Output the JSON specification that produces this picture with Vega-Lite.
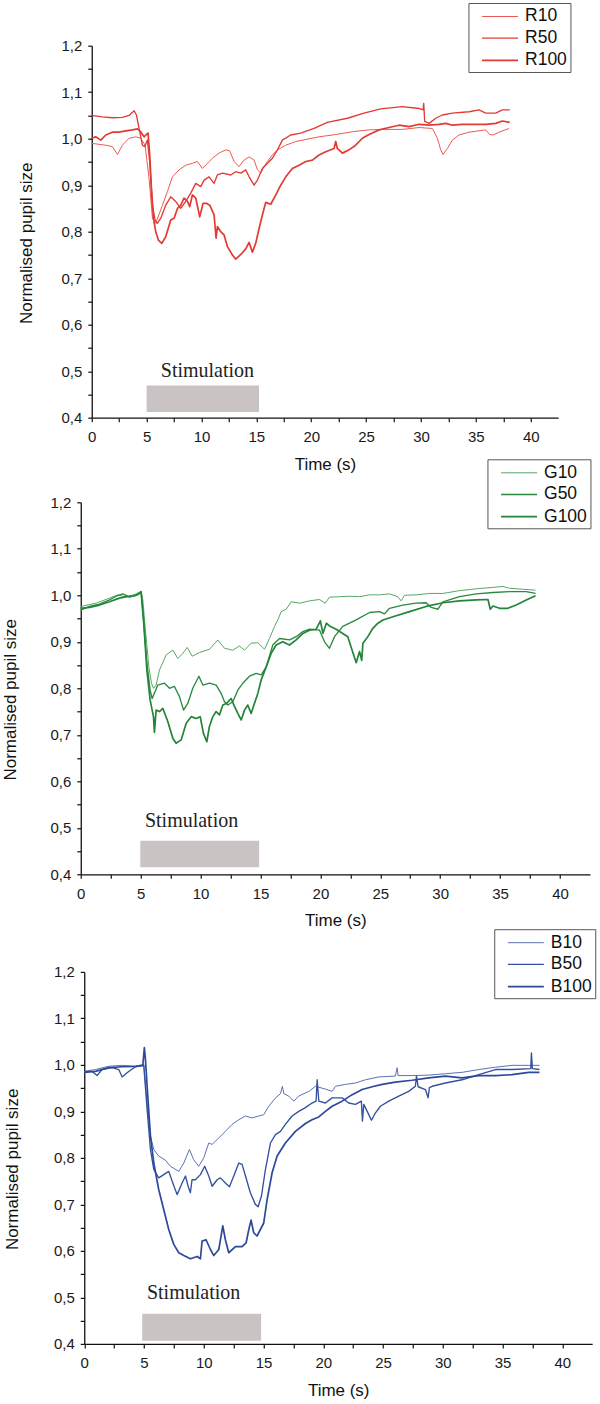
{
  "$schema": "https://vega.github.io/schema/vega-lite/v6.json",
  "background": "white",
  "padding": {"left": 0.75, "top": 1.7, "right": 0, "bottom": 0},
  "columns": 1,
  "bounds": "full",
  "spacing": -14.4,
  "resolve": {"scale": {"x": "independent", "y": "independent", "color": "independent", "strokeWidth": "independent"}},
  "config": {
    "view": {"stroke": null},
    "font": "Liberation Sans",
    "axis": {"grid": false, "domainColor": "#111111", "domainWidth": 1.3, "tickColor": "#111111", "tickWidth": 1.2, "tickSize": 4, "labelFont": "Liberation Sans", "labelFontSize": 15, "labelColor": "#1a1a1a", "titleFont": "Liberation Sans", "titleFontSize": 17, "titleFontWeight": "normal", "titleColor": "#111111", "labelFlush": false, "labelOverlap": false, "labelBound": false},
    "axisX": {"labelPadding": 8, "titlePadding": 11.4},
    "axisY": {"labelPadding": 6, "titleY": 197},
    "legend": {"orient": "none", "title": null, "strokeColor": "#555555", "fillColor": "white", "padding": 3, "symbolType": "M-2,0H1.6", "symbolSize": 400, "symbolOffset": 19.6, "labelOffset": 12, "labelFont": "Liberation Sans", "labelFontSize": 17.5, "labelColor": "#111111", "rowPadding": 2.2}
  },
  "datasets": {
    "stimR": [{"x1": 5.0, "x2": 15.24, "y1": 0.412, "y2": 0.469, "tx": 10.54, "ty": 0.487, "label": "Stimulation"}],
    "stimG": [{"x1": 4.97, "x2": 14.89, "y1": 0.415, "y2": 0.472, "tx": 9.25, "ty": 0.502, "label": "Stimulation"}],
    "stimB": [{"x1": 4.85, "x2": 14.8, "y1": 0.407, "y2": 0.465, "tx": 9.15, "ty": 0.497, "label": "Stimulation"}],
    "R": [
      {"s":"R10","t":0,"v":0.990},{"s":"R10","t":1.28,"v":0.986},{"s":"R10","t":1.88,"v":0.983},{"s":"R10","t":2.34,"v":0.966},{"s":"R10","t":2.79,"v":0.986},{"s":"R10","t":3.40,"v":1.001},{"s":"R10","t":4.01,"v":1.004},{"s":"R10","t":4.46,"v":1.001},{"s":"R10","t":4.86,"v":0.986},{"s":"R10","t":5.22,"v":0.915},{"s":"R10","t":5.53,"v":0.829},{"s":"R10","t":5.83,"v":0.818},{"s":"R10","t":6.44,"v":0.857},{"s":"R10","t":6.89,"v":0.886},{"s":"R10","t":7.35,"v":0.918},{"s":"R10","t":7.96,"v":0.933},{"s":"R10","t":8.56,"v":0.943},{"s":"R10","t":9.17,"v":0.947},{"s":"R10","t":9.63,"v":0.951},{"s":"R10","t":10.08,"v":0.936},{"s":"R10","t":10.54,"v":0.947},{"s":"R10","t":10.99,"v":0.958},{"s":"R10","t":11.60,"v":0.969},{"s":"R10","t":12.21,"v":0.976},{"s":"R10","t":12.57,"v":0.974},{"s":"R10","t":12.97,"v":0.951},{"s":"R10","t":13.42,"v":0.940},{"s":"R10","t":13.88,"v":0.954},{"s":"R10","t":14.34,"v":0.961},{"s":"R10","t":14.79,"v":0.954},{"s":"R10","t":15.10,"v":0.933},{"s":"R10","t":15.40,"v":0.926},{"s":"R10","t":15.70,"v":0.940},{"s":"R10","t":16.01,"v":0.951},{"s":"R10","t":16.46,"v":0.965},{"s":"R10","t":16.92,"v":0.976},{"s":"R10","t":17.68,"v":0.986},{"s":"R10","t":18.59,"v":0.994},{"s":"R10","t":20.71,"v":1.004},{"s":"R10","t":22.23,"v":1.009},{"s":"R10","t":23.75,"v":1.015},{"s":"R10","t":25.27,"v":1.019},{"s":"R10","t":26.79,"v":1.020},{"s":"R10","t":28.31,"v":1.020},{"s":"R10","t":29.83,"v":1.024},{"s":"R10","t":31.04,"v":1.022},{"s":"R10","t":31.50,"v":1.001},{"s":"R10","t":31.80,"v":0.976},{"s":"R10","t":32.01,"v":0.966},{"s":"R10","t":32.41,"v":0.979},{"s":"R10","t":32.86,"v":0.997},{"s":"R10","t":33.47,"v":1.008},{"s":"R10","t":34.38,"v":1.014},{"s":"R10","t":35.29,"v":1.017},{"s":"R10","t":35.90,"v":1.019},{"s":"R10","t":36.26,"v":1.009},{"s":"R10","t":36.57,"v":1.008},{"s":"R10","t":37.11,"v":1.014},{"s":"R10","t":38.03,"v":1.022},
      {"s":"R50","t":0,"v":1.050},{"s":"R50","t":0.97,"v":1.047},{"s":"R50","t":1.88,"v":1.045},{"s":"R50","t":2.79,"v":1.046},{"s":"R50","t":3.40,"v":1.050},{"s":"R50","t":3.86,"v":1.060},{"s":"R50","t":4.07,"v":1.051},{"s":"R50","t":4.31,"v":1.022},{"s":"R50","t":4.62,"v":0.986},{"s":"R50","t":4.83,"v":0.983},{"s":"R50","t":5.07,"v":0.997},{"s":"R50","t":5.28,"v":0.951},{"s":"R50","t":5.53,"v":0.857},{"s":"R50","t":5.77,"v":0.825},{"s":"R50","t":5.98,"v":0.818},{"s":"R50","t":6.29,"v":0.829},{"s":"R50","t":6.74,"v":0.857},{"s":"R50","t":7.20,"v":0.875},{"s":"R50","t":7.65,"v":0.865},{"s":"R50","t":8.11,"v":0.850},{"s":"R50","t":8.56,"v":0.865},{"s":"R50","t":9.02,"v":0.883},{"s":"R50","t":9.48,"v":0.904},{"s":"R50","t":9.93,"v":0.897},{"s":"R50","t":10.24,"v":0.911},{"s":"R50","t":10.69,"v":0.918},{"s":"R50","t":11.15,"v":0.904},{"s":"R50","t":11.45,"v":0.922},{"s":"R50","t":11.91,"v":0.926},{"s":"R50","t":12.67,"v":0.922},{"s":"R50","t":13.12,"v":0.929},{"s":"R50","t":13.58,"v":0.926},{"s":"R50","t":14.03,"v":0.933},{"s":"R50","t":14.34,"v":0.918},{"s":"R50","t":14.79,"v":0.900},{"s":"R50","t":15.10,"v":0.911},{"s":"R50","t":15.55,"v":0.936},{"s":"R50","t":16.01,"v":0.947},{"s":"R50","t":16.46,"v":0.958},{"s":"R50","t":16.92,"v":0.976},{"s":"R50","t":17.37,"v":0.997},{"s":"R50","t":18.13,"v":1.008},{"s":"R50","t":19.04,"v":1.012},{"s":"R50","t":20.26,"v":1.022},{"s":"R50","t":21.47,"v":1.035},{"s":"R50","t":23.30,"v":1.044},{"s":"R50","t":24.81,"v":1.055},{"s":"R50","t":26.33,"v":1.064},{"s":"R50","t":28.31,"v":1.069},{"s":"R50","t":29.83,"v":1.065},{"s":"R50","t":30.19,"v":1.062},{"s":"R50","t":30.25,"v":1.076},{"s":"R50","t":30.34,"v":1.037},{"s":"R50","t":30.74,"v":1.033},{"s":"R50","t":31.34,"v":1.044},{"s":"R50","t":31.95,"v":1.051},{"s":"R50","t":32.86,"v":1.055},{"s":"R50","t":34.38,"v":1.058},{"s":"R50","t":35.29,"v":1.062},{"s":"R50","t":35.90,"v":1.055},{"s":"R50","t":36.81,"v":1.055},{"s":"R50","t":37.42,"v":1.062},{"s":"R50","t":38.09,"v":1.062},
      {"s":"R100","t":0,"v":1.001},{"s":"R100","t":0.36,"v":1.004},{"s":"R100","t":0.82,"v":0.997},{"s":"R100","t":1.28,"v":1.008},{"s":"R100","t":1.88,"v":1.014},{"s":"R100","t":2.49,"v":1.014},{"s":"R100","t":3.10,"v":1.017},{"s":"R100","t":3.71,"v":1.019},{"s":"R100","t":4.16,"v":1.021},{"s":"R100","t":4.46,"v":1.015},{"s":"R100","t":4.77,"v":1.004},{"s":"R100","t":4.98,"v":1.009},{"s":"R100","t":5.13,"v":1.012},{"s":"R100","t":5.28,"v":0.965},{"s":"R100","t":5.44,"v":0.893},{"s":"R100","t":5.62,"v":0.829},{"s":"R100","t":5.83,"v":0.800},{"s":"R100","t":6.07,"v":0.782},{"s":"R100","t":6.38,"v":0.775},{"s":"R100","t":6.74,"v":0.789},{"s":"R100","t":7.20,"v":0.825},{"s":"R100","t":7.50,"v":0.829},{"s":"R100","t":7.81,"v":0.850},{"s":"R100","t":8.11,"v":0.857},{"s":"R100","t":8.41,"v":0.872},{"s":"R100","t":8.72,"v":0.865},{"s":"R100","t":8.93,"v":0.854},{"s":"R100","t":9.17,"v":0.879},{"s":"R100","t":9.48,"v":0.872},{"s":"R100","t":9.84,"v":0.832},{"s":"R100","t":10.14,"v":0.861},{"s":"R100","t":10.45,"v":0.861},{"s":"R100","t":10.75,"v":0.857},{"s":"R100","t":11.15,"v":0.836},{"s":"R100","t":11.33,"v":0.786},{"s":"R100","t":11.45,"v":0.811},{"s":"R100","t":11.75,"v":0.800},{"s":"R100","t":12.06,"v":0.793},{"s":"R100","t":12.36,"v":0.768},{"s":"R100","t":12.82,"v":0.750},{"s":"R100","t":13.12,"v":0.741},{"s":"R100","t":13.58,"v":0.751},{"s":"R100","t":14.03,"v":0.763},{"s":"R100","t":14.34,"v":0.777},{"s":"R100","t":14.64,"v":0.756},{"s":"R100","t":14.94,"v":0.775},{"s":"R100","t":15.25,"v":0.807},{"s":"R100","t":15.55,"v":0.836},{"s":"R100","t":15.85,"v":0.863},{"s":"R100","t":16.31,"v":0.859},{"s":"R100","t":16.77,"v":0.879},{"s":"R100","t":17.22,"v":0.900},{"s":"R100","t":17.68,"v":0.918},{"s":"R100","t":18.28,"v":0.936},{"s":"R100","t":18.89,"v":0.943},{"s":"R100","t":19.50,"v":0.951},{"s":"R100","t":20.11,"v":0.954},{"s":"R100","t":20.71,"v":0.965},{"s":"R100","t":21.32,"v":0.972},{"s":"R100","t":22.08,"v":0.979},{"s":"R100","t":22.23,"v":0.994},{"s":"R100","t":22.38,"v":0.979},{"s":"R100","t":22.84,"v":0.969},{"s":"R100","t":23.45,"v":0.976},{"s":"R100","t":24.05,"v":0.986},{"s":"R100","t":24.66,"v":1.001},{"s":"R100","t":25.27,"v":1.009},{"s":"R100","t":26.18,"v":1.019},{"s":"R100","t":27.09,"v":1.024},{"s":"R100","t":28.00,"v":1.029},{"s":"R100","t":28.91,"v":1.026},{"s":"R100","t":29.83,"v":1.031},{"s":"R100","t":30.74,"v":1.029},{"s":"R100","t":31.65,"v":1.031},{"s":"R100","t":32.26,"v":1.033},{"s":"R100","t":32.86,"v":1.029},{"s":"R100","t":33.77,"v":1.031},{"s":"R100","t":34.68,"v":1.031},{"s":"R100","t":35.90,"v":1.031},{"s":"R100","t":36.81,"v":1.033},{"s":"R100","t":37.42,"v":1.038},{"s":"R100","t":38.09,"v":1.035}
    ],
    "G": [
      {"s":"G10","t":0,"v":0.976},{"s":"G10","t":1.29,"v":0.983},{"s":"G10","t":2.40,"v":0.994},{"s":"G10","t":3.09,"v":1.001},{"s":"G10","t":3.79,"v":0.996},{"s":"G10","t":4.62,"v":1.003},{"s":"G10","t":5.04,"v":1.009},{"s":"G10","t":5.18,"v":0.990},{"s":"G10","t":5.40,"v":0.925},{"s":"G10","t":5.68,"v":0.847},{"s":"G10","t":5.90,"v":0.811},{"s":"G10","t":6.07,"v":0.800},{"s":"G10","t":6.29,"v":0.807},{"s":"G10","t":6.57,"v":0.839},{"s":"G10","t":7.13,"v":0.872},{"s":"G10","t":7.69,"v":0.882},{"s":"G10","t":8.10,"v":0.864},{"s":"G10","t":8.52,"v":0.875},{"s":"G10","t":8.88,"v":0.888},{"s":"G10","t":9.30,"v":0.869},{"s":"G10","t":9.91,"v":0.877},{"s":"G10","t":10.75,"v":0.884},{"s":"G10","t":11.44,"v":0.904},{"s":"G10","t":12.00,"v":0.886},{"s":"G10","t":12.69,"v":0.882},{"s":"G10","t":13.25,"v":0.891},{"s":"G10","t":13.67,"v":0.882},{"s":"G10","t":14.22,"v":0.897},{"s":"G10","t":14.78,"v":0.898},{"s":"G10","t":15.34,"v":0.884},{"s":"G10","t":15.75,"v":0.907},{"s":"G10","t":16.17,"v":0.933},{"s":"G10","t":16.45,"v":0.947},{"s":"G10","t":16.73,"v":0.965},{"s":"G10","t":17.15,"v":0.970},{"s":"G10","t":17.56,"v":0.986},{"s":"G10","t":18.26,"v":0.983},{"s":"G10","t":19.09,"v":0.988},{"s":"G10","t":19.93,"v":0.991},{"s":"G10","t":20.40,"v":0.983},{"s":"G10","t":20.76,"v":0.996},{"s":"G10","t":21.60,"v":0.997},{"s":"G10","t":22.43,"v":0.998},{"s":"G10","t":23.27,"v":0.997},{"s":"G10","t":24.10,"v":1.001},{"s":"G10","t":24.94,"v":1.001},{"s":"G10","t":25.77,"v":1.003},{"s":"G10","t":26.47,"v":0.997},{"s":"G10","t":26.74,"v":0.988},{"s":"G10","t":27.02,"v":1.000},{"s":"G10","t":28.00,"v":1.001},{"s":"G10","t":29.11,"v":1.004},{"s":"G10","t":30.23,"v":1.004},{"s":"G10","t":31.61,"v":1.010},{"s":"G10","t":33.01,"v":1.014},{"s":"G10","t":34.40,"v":1.017},{"s":"G10","t":35.23,"v":1.019},{"s":"G10","t":35.79,"v":1.015},{"s":"G10","t":36.90,"v":1.013},{"s":"G10","t":37.96,"v":1.011},
      {"s":"G50","t":0,"v":0.968},{"s":"G50","t":0.73,"v":0.976},{"s":"G50","t":1.56,"v":0.981},{"s":"G50","t":2.40,"v":0.990},{"s":"G50","t":2.96,"v":0.998},{"s":"G50","t":3.51,"v":1.003},{"s":"G50","t":4.07,"v":0.996},{"s":"G50","t":4.76,"v":1.001},{"s":"G50","t":5.04,"v":1.008},{"s":"G50","t":5.24,"v":0.947},{"s":"G50","t":5.52,"v":0.854},{"s":"G50","t":5.79,"v":0.796},{"s":"G50","t":5.96,"v":0.778},{"s":"G50","t":6.43,"v":0.807},{"s":"G50","t":6.99,"v":0.811},{"s":"G50","t":7.41,"v":0.800},{"s":"G50","t":7.82,"v":0.804},{"s":"G50","t":8.24,"v":0.782},{"s":"G50","t":8.58,"v":0.753},{"s":"G50","t":8.94,"v":0.768},{"s":"G50","t":9.35,"v":0.800},{"s":"G50","t":9.86,"v":0.826},{"s":"G50","t":10.19,"v":0.807},{"s":"G50","t":10.75,"v":0.811},{"s":"G50","t":11.30,"v":0.807},{"s":"G50","t":11.72,"v":0.789},{"s":"G50","t":12.00,"v":0.771},{"s":"G50","t":12.28,"v":0.764},{"s":"G50","t":12.69,"v":0.771},{"s":"G50","t":13.11,"v":0.796},{"s":"G50","t":13.53,"v":0.811},{"s":"G50","t":14.08,"v":0.826},{"s":"G50","t":14.64,"v":0.832},{"s":"G50","t":15.06,"v":0.829},{"s":"G50","t":15.48,"v":0.846},{"s":"G50","t":16.03,"v":0.893},{"s":"G50","t":16.59,"v":0.907},{"s":"G50","t":17.43,"v":0.904},{"s":"G50","t":17.98,"v":0.911},{"s":"G50","t":18.54,"v":0.922},{"s":"G50","t":19.09,"v":0.927},{"s":"G50","t":19.93,"v":0.925},{"s":"G50","t":20.35,"v":0.900},{"s":"G50","t":20.76,"v":0.886},{"s":"G50","t":21.18,"v":0.911},{"s":"G50","t":21.87,"v":0.933},{"s":"G50","t":22.99,"v":0.947},{"s":"G50","t":24.10,"v":0.963},{"s":"G50","t":24.94,"v":0.965},{"s":"G50","t":25.35,"v":0.960},{"s":"G50","t":25.77,"v":0.972},{"s":"G50","t":26.88,"v":0.979},{"s":"G50","t":27.99,"v":0.983},{"s":"G50","t":28.83,"v":0.984},{"s":"G50","t":29.25,"v":0.974},{"s":"G50","t":29.81,"v":0.970},{"s":"G50","t":30.23,"v":0.986},{"s":"G50","t":31.61,"v":0.997},{"s":"G50","t":33.01,"v":1.003},{"s":"G50","t":34.40,"v":1.006},{"s":"G50","t":35.79,"v":1.008},{"s":"G50","t":37.18,"v":1.008},{"s":"G50","t":37.96,"v":1.004},
      {"s":"G100","t":0,"v":0.972},{"s":"G100","t":0.73,"v":0.974},{"s":"G100","t":1.56,"v":0.979},{"s":"G100","t":2.40,"v":0.986},{"s":"G100","t":3.23,"v":0.994},{"s":"G100","t":3.79,"v":0.997},{"s":"G100","t":4.49,"v":0.999},{"s":"G100","t":5.04,"v":1.006},{"s":"G100","t":5.26,"v":0.940},{"s":"G100","t":5.52,"v":0.839},{"s":"G100","t":5.79,"v":0.775},{"s":"G100","t":6.07,"v":0.739},{"s":"G100","t":6.15,"v":0.705},{"s":"G100","t":6.29,"v":0.753},{"s":"G100","t":6.57,"v":0.750},{"s":"G100","t":6.85,"v":0.757},{"s":"G100","t":7.27,"v":0.728},{"s":"G100","t":7.69,"v":0.692},{"s":"G100","t":7.96,"v":0.682},{"s":"G100","t":8.38,"v":0.689},{"s":"G100","t":8.80,"v":0.725},{"s":"G100","t":9.22,"v":0.739},{"s":"G100","t":9.63,"v":0.735},{"s":"G100","t":9.97,"v":0.739},{"s":"G100","t":10.24,"v":0.703},{"s":"G100","t":10.52,"v":0.685},{"s":"G100","t":10.74,"v":0.718},{"s":"G100","t":11.02,"v":0.739},{"s":"G100","t":11.30,"v":0.750},{"s":"G100","t":11.58,"v":0.743},{"s":"G100","t":11.86,"v":0.764},{"s":"G100","t":12.19,"v":0.768},{"s":"G100","t":12.55,"v":0.778},{"s":"G100","t":12.83,"v":0.761},{"s":"G100","t":13.11,"v":0.746},{"s":"G100","t":13.39,"v":0.732},{"s":"G100","t":13.67,"v":0.753},{"s":"G100","t":13.94,"v":0.764},{"s":"G100","t":14.22,"v":0.746},{"s":"G100","t":14.50,"v":0.768},{"s":"G100","t":14.78,"v":0.789},{"s":"G100","t":15.06,"v":0.818},{"s":"G100","t":15.48,"v":0.846},{"s":"G100","t":15.89,"v":0.875},{"s":"G100","t":16.31,"v":0.893},{"s":"G100","t":16.86,"v":0.900},{"s":"G100","t":17.42,"v":0.893},{"s":"G100","t":17.98,"v":0.904},{"s":"G100","t":18.54,"v":0.918},{"s":"G100","t":19.09,"v":0.925},{"s":"G100","t":19.65,"v":0.927},{"s":"G100","t":20.00,"v":0.945},{"s":"G100","t":20.21,"v":0.918},{"s":"G100","t":20.50,"v":0.940},{"s":"G100","t":20.76,"v":0.934},{"s":"G100","t":21.32,"v":0.927},{"s":"G100","t":21.87,"v":0.918},{"s":"G100","t":22.29,"v":0.911},{"s":"G100","t":22.65,"v":0.882},{"s":"G100","t":22.99,"v":0.855},{"s":"G100","t":23.27,"v":0.879},{"s":"G100","t":23.45,"v":0.860},{"s":"G100","t":23.55,"v":0.897},{"s":"G100","t":23.96,"v":0.911},{"s":"G100","t":24.38,"v":0.929},{"s":"G100","t":24.80,"v":0.940},{"s":"G100","t":25.22,"v":0.947},{"s":"G100","t":26.06,"v":0.954},{"s":"G100","t":27.44,"v":0.965},{"s":"G100","t":28.83,"v":0.976},{"s":"G100","t":30.23,"v":0.984},{"s":"G100","t":31.61,"v":0.988},{"s":"G100","t":33.01,"v":0.990},{"s":"G100","t":33.99,"v":0.991},{"s":"G100","t":34.18,"v":0.970},{"s":"G100","t":34.40,"v":0.977},{"s":"G100","t":34.96,"v":0.972},{"s":"G100","t":35.65,"v":0.972},{"s":"G100","t":36.34,"v":0.979},{"s":"G100","t":37.18,"v":0.990},{"s":"G100","t":37.96,"v":0.999}
    ],
    "B": [
      {"s":"B10","t":0,"v":0.986},{"s":"B10","t":0.93,"v":0.990},{"s":"B10","t":2.05,"v":0.997},{"s":"B10","t":3.17,"v":0.999},{"s":"B10","t":4.28,"v":0.997},{"s":"B10","t":4.98,"v":1.001},{"s":"B10","t":5.26,"v":0.918},{"s":"B10","t":5.54,"v":0.847},{"s":"B10","t":5.82,"v":0.818},{"s":"B10","t":6.23,"v":0.804},{"s":"B10","t":6.79,"v":0.795},{"s":"B10","t":7.21,"v":0.782},{"s":"B10","t":7.91,"v":0.771},{"s":"B10","t":8.33,"v":0.789},{"s":"B10","t":8.80,"v":0.818},{"s":"B10","t":9.16,"v":0.796},{"s":"B10","t":9.58,"v":0.782},{"s":"B10","t":10.00,"v":0.800},{"s":"B10","t":10.42,"v":0.832},{"s":"B10","t":10.70,"v":0.829},{"s":"B10","t":11.26,"v":0.843},{"s":"B10","t":11.81,"v":0.857},{"s":"B10","t":12.37,"v":0.872},{"s":"B10","t":12.93,"v":0.882},{"s":"B10","t":13.49,"v":0.890},{"s":"B10","t":14.04,"v":0.886},{"s":"B10","t":14.60,"v":0.890},{"s":"B10","t":15.02,"v":0.893},{"s":"B10","t":15.44,"v":0.911},{"s":"B10","t":16.00,"v":0.929},{"s":"B10","t":16.42,"v":0.938},{"s":"B10","t":16.58,"v":0.954},{"s":"B10","t":16.70,"v":0.938},{"s":"B10","t":17.11,"v":0.933},{"s":"B10","t":17.53,"v":0.922},{"s":"B10","t":17.95,"v":0.933},{"s":"B10","t":18.79,"v":0.943},{"s":"B10","t":19.34,"v":0.954},{"s":"B10","t":20.18,"v":0.948},{"s":"B10","t":20.74,"v":0.943},{"s":"B10","t":21.02,"v":0.954},{"s":"B10","t":21.85,"v":0.958},{"s":"B10","t":22.69,"v":0.961},{"s":"B10","t":23.53,"v":0.968},{"s":"B10","t":24.64,"v":0.974},{"s":"B10","t":26.04,"v":0.976},{"s":"B10","t":26.18,"v":0.994},{"s":"B10","t":26.26,"v":0.977},{"s":"B10","t":27.43,"v":0.977},{"s":"B10","t":28.83,"v":0.978},{"s":"B10","t":30.22,"v":0.981},{"s":"B10","t":31.62,"v":0.984},{"s":"B10","t":33.01,"v":0.990},{"s":"B10","t":34.41,"v":0.995},{"s":"B10","t":35.80,"v":0.999},{"s":"B10","t":37.20,"v":0.999},{"s":"B10","t":38.09,"v":0.999},
      {"s":"B50","t":0,"v":0.986},{"s":"B50","t":0.66,"v":0.986},{"s":"B50","t":1.07,"v":0.977},{"s":"B50","t":1.49,"v":0.990},{"s":"B50","t":2.33,"v":0.994},{"s":"B50","t":2.89,"v":0.990},{"s":"B50","t":3.17,"v":0.974},{"s":"B50","t":3.58,"v":0.983},{"s":"B50","t":4.28,"v":0.996},{"s":"B50","t":4.98,"v":0.999},{"s":"B50","t":5.26,"v":0.904},{"s":"B50","t":5.54,"v":0.818},{"s":"B50","t":5.82,"v":0.775},{"s":"B50","t":6.23,"v":0.757},{"s":"B50","t":6.65,"v":0.764},{"s":"B50","t":7.07,"v":0.771},{"s":"B50","t":7.41,"v":0.746},{"s":"B50","t":7.77,"v":0.721},{"s":"B50","t":8.19,"v":0.746},{"s":"B50","t":8.47,"v":0.761},{"s":"B50","t":8.69,"v":0.739},{"s":"B50","t":8.88,"v":0.725},{"s":"B50","t":9.02,"v":0.753},{"s":"B50","t":9.30,"v":0.753},{"s":"B50","t":9.72,"v":0.764},{"s":"B50","t":10.08,"v":0.782},{"s":"B50","t":10.42,"v":0.761},{"s":"B50","t":10.70,"v":0.739},{"s":"B50","t":11.12,"v":0.753},{"s":"B50","t":11.39,"v":0.757},{"s":"B50","t":11.81,"v":0.746},{"s":"B50","t":12.15,"v":0.738},{"s":"B50","t":12.51,"v":0.761},{"s":"B50","t":12.93,"v":0.789},{"s":"B50","t":13.21,"v":0.786},{"s":"B50","t":13.49,"v":0.761},{"s":"B50","t":13.90,"v":0.725},{"s":"B50","t":14.32,"v":0.700},{"s":"B50","t":14.55,"v":0.695},{"s":"B50","t":14.83,"v":0.718},{"s":"B50","t":15.16,"v":0.775},{"s":"B50","t":15.58,"v":0.832},{"s":"B50","t":16.00,"v":0.850},{"s":"B50","t":16.42,"v":0.857},{"s":"B50","t":16.83,"v":0.872},{"s":"B50","t":17.39,"v":0.890},{"s":"B50","t":17.95,"v":0.900},{"s":"B50","t":18.51,"v":0.908},{"s":"B50","t":19.06,"v":0.918},{"s":"B50","t":19.40,"v":0.922},{"s":"B50","t":19.49,"v":0.968},{"s":"B50","t":19.63,"v":0.922},{"s":"B50","t":20.18,"v":0.918},{"s":"B50","t":20.74,"v":0.929},{"s":"B50","t":21.58,"v":0.929},{"s":"B50","t":22.13,"v":0.918},{"s":"B50","t":22.69,"v":0.915},{"s":"B50","t":23.19,"v":0.922},{"s":"B50","t":23.28,"v":0.879},{"s":"B50","t":23.39,"v":0.915},{"s":"B50","t":23.81,"v":0.893},{"s":"B50","t":24.03,"v":0.881},{"s":"B50","t":24.37,"v":0.897},{"s":"B50","t":24.78,"v":0.911},{"s":"B50","t":25.48,"v":0.922},{"s":"B50","t":26.32,"v":0.933},{"s":"B50","t":27.15,"v":0.943},{"s":"B50","t":27.71,"v":0.954},{"s":"B50","t":27.80,"v":0.976},{"s":"B50","t":27.94,"v":0.953},{"s":"B50","t":28.55,"v":0.947},{"s":"B50","t":28.77,"v":0.929},{"s":"B50","t":28.88,"v":0.951},{"s":"B50","t":29.11,"v":0.954},{"s":"B50","t":30.22,"v":0.961},{"s":"B50","t":31.62,"v":0.968},{"s":"B50","t":33.01,"v":0.979},{"s":"B50","t":34.41,"v":0.990},{"s":"B50","t":35.80,"v":0.990},{"s":"B50","t":37.36,"v":0.992},{"s":"B50","t":37.42,"v":1.026},{"s":"B50","t":37.50,"v":0.992},{"s":"B50","t":38.09,"v":0.990},
      {"s":"B100","t":0,"v":0.984},{"s":"B100","t":0.93,"v":0.986},{"s":"B100","t":2.05,"v":0.994},{"s":"B100","t":3.17,"v":0.996},{"s":"B100","t":4.28,"v":0.997},{"s":"B100","t":4.90,"v":0.999},{"s":"B100","t":5.03,"v":1.037},{"s":"B100","t":5.12,"v":1.012},{"s":"B100","t":5.26,"v":0.954},{"s":"B100","t":5.54,"v":0.847},{"s":"B100","t":5.82,"v":0.789},{"s":"B100","t":6.23,"v":0.732},{"s":"B100","t":6.65,"v":0.689},{"s":"B100","t":7.07,"v":0.646},{"s":"B100","t":7.49,"v":0.614},{"s":"B100","t":7.91,"v":0.596},{"s":"B100","t":8.33,"v":0.590},{"s":"B100","t":8.88,"v":0.583},{"s":"B100","t":9.44,"v":0.588},{"s":"B100","t":9.72,"v":0.583},{"s":"B100","t":9.86,"v":0.621},{"s":"B100","t":10.19,"v":0.624},{"s":"B100","t":10.56,"v":0.603},{"s":"B100","t":10.84,"v":0.590},{"s":"B100","t":11.26,"v":0.603},{"s":"B100","t":11.59,"v":0.654},{"s":"B100","t":11.81,"v":0.624},{"s":"B100","t":12.09,"v":0.596},{"s":"B100","t":12.65,"v":0.609},{"s":"B100","t":13.21,"v":0.609},{"s":"B100","t":13.54,"v":0.617},{"s":"B100","t":13.77,"v":0.646},{"s":"B100","t":13.96,"v":0.666},{"s":"B100","t":14.18,"v":0.639},{"s":"B100","t":14.46,"v":0.632},{"s":"B100","t":14.74,"v":0.646},{"s":"B100","t":15.02,"v":0.660},{"s":"B100","t":15.30,"v":0.710},{"s":"B100","t":15.72,"v":0.768},{"s":"B100","t":16.14,"v":0.804},{"s":"B100","t":16.83,"v":0.832},{"s":"B100","t":17.67,"v":0.857},{"s":"B100","t":18.51,"v":0.874},{"s":"B100","t":19.06,"v":0.882},{"s":"B100","t":19.62,"v":0.888},{"s":"B100","t":20.18,"v":0.900},{"s":"B100","t":20.74,"v":0.911},{"s":"B100","t":21.58,"v":0.922},{"s":"B100","t":22.42,"v":0.936},{"s":"B100","t":23.26,"v":0.947},{"s":"B100","t":24.09,"v":0.953},{"s":"B100","t":24.93,"v":0.958},{"s":"B100","t":26.04,"v":0.963},{"s":"B100","t":27.43,"v":0.967},{"s":"B100","t":28.83,"v":0.972},{"s":"B100","t":30.22,"v":0.976},{"s":"B100","t":31.62,"v":0.972},{"s":"B100","t":33.01,"v":0.977},{"s":"B100","t":34.41,"v":0.977},{"s":"B100","t":35.80,"v":0.979},{"s":"B100","t":37.20,"v":0.984},{"s":"B100","t":38.09,"v":0.984}
    ]
  },
  "concat": [
    {
      "width": 466.4, "height": 372,
      "layer": [
        {"data": {"name": "R"}, "mark": {"type": "line", "interpolate": "linear", "strokeJoin": "round"},
         "encoding": {
           "x": {"field": "t", "type": "quantitative", "scale": {"domain": [0, 42.5], "nice": false, "zero": false}, "axis": {"title": "Time (s)", "values": [0,2.5,5,7.5,10,12.5,15,17.5,20,22.5,25,27.5,30,32.5,35,37.5,40], "labelExpr": "(datum.value % 5 == 0) ? format(datum.value, 'd') : ''"}},
           "y": {"field": "v", "type": "quantitative", "scale": {"domain": [0.4, 1.2], "nice": false, "zero": false}, "axis": {"title": "Normalised pupil size", "titlePadding": 25.7, "values": [0.4,0.45,0.5,0.55,0.6,0.65,0.7,0.75,0.8,0.85,0.9,0.95,1.0,1.05,1.1,1.15,1.2], "labelExpr": "(round(datum.value*100) % 10 == 0) ? replace(format(datum.value, '.1f'), '.', ',') : ''"}},
           "color": {"field": "s", "type": "nominal", "scale": {"domain": ["R10", "R50", "R100"], "range": ["#ea5a52", "#e23b34", "#e23b34"]}, "legend": {"legendX": 376.7, "legendY": -42.7, "encode": {"symbols": {"update": {"strokeWidth": {"signal": "datum.value == 'R10' ? 1 : datum.value == 'R50' ? 1.7 : 3.2"}}}}}},
           "strokeWidth": {"field": "s", "type": "nominal", "scale": {"domain": ["R10", "R50", "R100"], "range": [1, 1.7, 3]}, "legend": null}
         }},
        {"data": {"name": "stimR"}, "mark": {"type": "rect", "color": "#c9c3c4"},
         "encoding": {"x": {"field": "x1", "type": "quantitative", "axis": {"title": "Time (s)", "values": [0,2.5,5,7.5,10,12.5,15,17.5,20,22.5,25,27.5,30,32.5,35,37.5,40], "labelExpr": "(datum.value % 5 == 0) ? format(datum.value, 'd') : ''"}}, "x2": {"field": "x2"}, "y": {"field": "y1", "type": "quantitative", "axis": {"title": "Normalised pupil size", "titlePadding": 25.7, "values": [0.4,0.45,0.5,0.55,0.6,0.65,0.7,0.75,0.8,0.85,0.9,0.95,1.0,1.05,1.1,1.15,1.2], "labelExpr": "(round(datum.value*100) % 10 == 0) ? replace(format(datum.value, '.1f'), '.', ',') : ''"}}, "y2": {"field": "y2"}}},
        {"data": {"name": "stimR"}, "mark": {"type": "text", "font": "Liberation Serif", "fontSize": 20, "color": "#222222", "align": "center", "baseline": "alphabetic"},
         "encoding": {"x": {"field": "tx", "type": "quantitative", "axis": {"title": "Time (s)", "values": [0,2.5,5,7.5,10,12.5,15,17.5,20,22.5,25,27.5,30,32.5,35,37.5,40], "labelExpr": "(datum.value % 5 == 0) ? format(datum.value, 'd') : ''"}}, "y": {"field": "ty", "type": "quantitative", "axis": {"title": "Normalised pupil size", "titlePadding": 25.7, "values": [0.4,0.45,0.5,0.55,0.6,0.65,0.7,0.75,0.8,0.85,0.9,0.95,1.0,1.05,1.1,1.15,1.2], "labelExpr": "(round(datum.value*100) % 10 == 0) ? replace(format(datum.value, '.1f'), '.', ',') : ''"}}, "text": {"field": "label"}}}
      ]
    },
    {
      "width": 498.2, "height": 372,
      "layer": [
        {"data": {"name": "G"}, "mark": {"type": "line", "interpolate": "linear", "strokeJoin": "round"},
         "encoding": {
           "x": {"field": "t", "type": "quantitative", "scale": {"domain": [0, 42.5], "range": [-11, 498.2], "nice": false, "zero": false}, "axis": {"title": ["Time (s)", ""], "titleLineHeight": 12.7, "values": [0,2.5,5,7.5,10,12.5,15,17.5,20,22.5,25,27.5,30,32.5,35,37.5,40], "labelExpr": "(datum.value % 5 == 0) ? format(datum.value, 'd') : ''"}},
           "y": {"field": "v", "type": "quantitative", "scale": {"domain": [0.4, 1.2], "nice": false, "zero": false}, "axis": {"title": "Normalised pupil size", "offset": 11, "titlePadding": 30.2, "values": [0.4,0.45,0.5,0.55,0.6,0.65,0.7,0.75,0.8,0.85,0.9,0.95,1.0,1.05,1.1,1.15,1.2], "labelExpr": "(round(datum.value*100) % 10 == 0) ? replace(format(datum.value, '.1f'), '.', ',') : ''"}},
           "color": {"field": "s", "type": "nominal", "scale": {"domain": ["G10", "G50", "G100"], "range": ["#55a865", "#2a8a3f", "#23843a"]}, "legend": {"legendX": 395.7, "legendY": -43, "encode": {"symbols": {"update": {"strokeWidth": {"signal": "datum.value == 'G10' ? 1 : datum.value == 'G50' ? 1.7 : 3.2"}}}}}},
           "strokeWidth": {"field": "s", "type": "nominal", "scale": {"domain": ["G10", "G50", "G100"], "range": [1, 1.7, 3]}, "legend": null}
         }},
        {"data": {"name": "stimG"}, "mark": {"type": "rect", "color": "#c9c3c4"},
         "encoding": {"x": {"field": "x1", "type": "quantitative", "axis": {"title": ["Time (s)", ""], "titleLineHeight": 12.7, "values": [0,2.5,5,7.5,10,12.5,15,17.5,20,22.5,25,27.5,30,32.5,35,37.5,40], "labelExpr": "(datum.value % 5 == 0) ? format(datum.value, 'd') : ''"}}, "x2": {"field": "x2"}, "y": {"field": "y1", "type": "quantitative", "axis": {"title": "Normalised pupil size", "offset": 11, "titlePadding": 30.2, "values": [0.4,0.45,0.5,0.55,0.6,0.65,0.7,0.75,0.8,0.85,0.9,0.95,1.0,1.05,1.1,1.15,1.2], "labelExpr": "(round(datum.value*100) % 10 == 0) ? replace(format(datum.value, '.1f'), '.', ',') : ''"}}, "y2": {"field": "y2"}}},
        {"data": {"name": "stimG"}, "mark": {"type": "text", "font": "Liberation Serif", "fontSize": 20, "color": "#222222", "align": "center", "baseline": "alphabetic"},
         "encoding": {"x": {"field": "tx", "type": "quantitative", "axis": {"title": ["Time (s)", ""], "titleLineHeight": 12.7, "values": [0,2.5,5,7.5,10,12.5,15,17.5,20,22.5,25,27.5,30,32.5,35,37.5,40], "labelExpr": "(datum.value % 5 == 0) ? format(datum.value, 'd') : ''"}}, "y": {"field": "ty", "type": "quantitative", "axis": {"title": "Normalised pupil size", "offset": 11, "titlePadding": 30.2, "values": [0.4,0.45,0.5,0.55,0.6,0.65,0.7,0.75,0.8,0.85,0.9,0.95,1.0,1.05,1.1,1.15,1.2], "labelExpr": "(round(datum.value*100) % 10 == 0) ? replace(format(datum.value, '.1f'), '.', ',') : ''"}}, "text": {"field": "label"}}}
      ]
    },
    {
      "width": 500.4, "height": 372,
      "layer": [
        {"data": {"name": "B"}, "mark": {"type": "line", "interpolate": "linear", "strokeJoin": "round"},
         "encoding": {
           "x": {"field": "t", "type": "quantitative", "scale": {"domain": [0, 42.5], "range": [-7.5, 500.4], "nice": false, "zero": false}, "axis": {"title": "Time (s)", "values": [0,2.5,5,7.5,10,12.5,15,17.5,20,22.5,25,27.5,30,32.5,35,37.5,40], "labelExpr": "(datum.value % 5 == 0) ? format(datum.value, 'd') : ''"}},
           "y": {"field": "v", "type": "quantitative", "scale": {"domain": [0.4, 1.2], "nice": false, "zero": false}, "axis": {"title": "Normalised pupil size", "offset": 7.5, "titlePadding": 31.75, "values": [0.4,0.45,0.5,0.55,0.6,0.65,0.7,0.75,0.8,0.85,0.9,0.95,1.0,1.05,1.1,1.15,1.2], "labelExpr": "(round(datum.value*100) % 10 == 0) ? replace(format(datum.value, '.1f'), '.', ',') : ''"}},
           "color": {"field": "s", "type": "nominal", "scale": {"domain": ["B10", "B50", "B100"], "range": ["#5a70b2", "#34519f", "#2d4a99"]}, "legend": {"legendX": 402.5, "legendY": -42.7, "encode": {"symbols": {"update": {"strokeWidth": {"signal": "datum.value == 'B10' ? 1 : datum.value == 'B50' ? 1.7 : 3.2"}}}}}},
           "strokeWidth": {"field": "s", "type": "nominal", "scale": {"domain": ["B10", "B50", "B100"], "range": [1, 1.7, 3]}, "legend": null}
         }},
        {"data": {"name": "stimB"}, "mark": {"type": "rect", "color": "#c9c3c4"},
         "encoding": {"x": {"field": "x1", "type": "quantitative", "axis": {"title": "Time (s)", "values": [0,2.5,5,7.5,10,12.5,15,17.5,20,22.5,25,27.5,30,32.5,35,37.5,40], "labelExpr": "(datum.value % 5 == 0) ? format(datum.value, 'd') : ''"}}, "x2": {"field": "x2"}, "y": {"field": "y1", "type": "quantitative", "axis": {"title": "Normalised pupil size", "offset": 7.5, "titlePadding": 31.75, "values": [0.4,0.45,0.5,0.55,0.6,0.65,0.7,0.75,0.8,0.85,0.9,0.95,1.0,1.05,1.1,1.15,1.2], "labelExpr": "(round(datum.value*100) % 10 == 0) ? replace(format(datum.value, '.1f'), '.', ',') : ''"}}, "y2": {"field": "y2"}}},
        {"data": {"name": "stimB"}, "mark": {"type": "text", "font": "Liberation Serif", "fontSize": 20, "color": "#222222", "align": "center", "baseline": "alphabetic"},
         "encoding": {"x": {"field": "tx", "type": "quantitative", "axis": {"title": "Time (s)", "values": [0,2.5,5,7.5,10,12.5,15,17.5,20,22.5,25,27.5,30,32.5,35,37.5,40], "labelExpr": "(datum.value % 5 == 0) ? format(datum.value, 'd') : ''"}}, "y": {"field": "ty", "type": "quantitative", "axis": {"title": "Normalised pupil size", "offset": 7.5, "titlePadding": 31.75, "values": [0.4,0.45,0.5,0.55,0.6,0.65,0.7,0.75,0.8,0.85,0.9,0.95,1.0,1.05,1.1,1.15,1.2], "labelExpr": "(round(datum.value*100) % 10 == 0) ? replace(format(datum.value, '.1f'), '.', ',') : ''"}}, "text": {"field": "label"}}}
      ]
    }
  ]
}
